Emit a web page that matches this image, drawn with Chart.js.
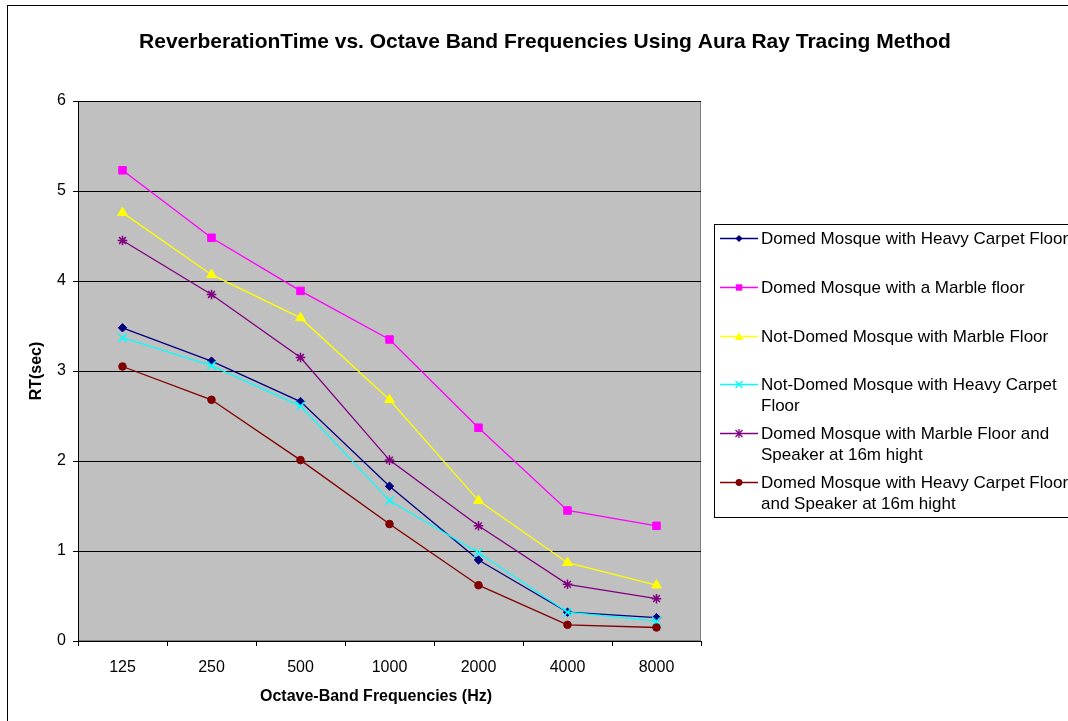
<!DOCTYPE html>
<html>
<head>
<meta charset="utf-8">
<script src="https://cdn.jsdelivr.net/npm/chart.js@4/dist/chart.umd.min.js"></script>
<style>
  html, body { margin: 0; padding: 0; background: #fff; }
  #wrap { position: relative; width: 1068px; height: 721px; }
</style>
</head>
<body>
<div id="wrap"><canvas id="rt" width="1068" height="721"></canvas></div>
<script>
// Octave-band centre frequencies (Hz)
const categories = ['125', '250', '500', '1000', '2000', '4000', '8000'];

// Reverberation time (s) per configuration
const domedCarpet          = [3.48, 3.11, 2.66, 1.72, 0.90, 0.32, 0.26];
const domedMarble          = [5.23, 4.48, 3.89, 3.35, 2.37, 1.45, 1.28];
const notDomedMarble       = [4.76, 4.07, 3.59, 2.68, 1.56, 0.87, 0.62];
const notDomedCarpet       = [3.37, 3.06, 2.61, 1.56, 0.98, 0.32, 0.22];
const domedMarbleSpeaker   = [4.45, 3.85, 3.15, 2.01, 1.28, 0.63, 0.47];
const domedCarpetSpeaker   = [3.05, 2.68, 2.01, 1.30, 0.62, 0.18, 0.15];

const seriesNames = [
  ['Domed Mosque with Heavy Carpet Floor'],
  ['Domed Mosque with a Marble floor'],
  ['Not-Domed Mosque with Marble Floor'],
  ['Not-Domed Mosque with Heavy Carpet', 'Floor'],
  ['Domed Mosque with Marble Floor and', 'Speaker at 16m hight'],
  ['Domed Mosque with Heavy Carpet Floor', 'and Speaker at 16m hight']
];

const chartTitle = 'ReverberationTime vs. Octave Band Frequencies Using Aura Ray Tracing Method';
const xTitle = 'Octave-Band Frequencies (Hz)';
const yTitle = 'RT(sec)';

const FONT = "'Liberation Sans', Arial, sans-serif";

const styles = [
  { color: '#000080', pointStyle: 'rectRot',  radius: 4.2, fill: true },
  { color: '#FF00FF', pointStyle: 'rect',     radius: 5.3, fill: true },
  { color: '#FFFF00', pointStyle: 'triangle', radius: 5.6, fill: true },
  { color: '#00FFFF', pointStyle: 'crossRot', radius: 6.0, fill: false },
  { color: '#800080', pointStyle: 'star',     radius: 4.8, fill: false },
  { color: '#800000', pointStyle: 'circle',   radius: 3.8, fill: true }
];

const values = [domedCarpet, domedMarble, notDomedMarble, notDomedCarpet, domedMarbleSpeaker, domedCarpetSpeaker];

const datasets = values.map((v, i) => ({
  label: seriesNames[i].join(' '),
  data: v,
  borderColor: styles[i].color,
  backgroundColor: styles[i].color,
  pointBackgroundColor: styles[i].color,
  pointBorderColor: styles[i].color,
  pointStyle: styles[i].pointStyle,
  pointRadius: styles[i].radius,
  pointBorderWidth: styles[i].fill ? 1 : 1.5,
  borderWidth: 1.3,
  tension: 0,
  fill: false,
  order: values.length - i
}));

// Legend marker drawing (small glyphs beside each legend entry)
function legendMarker(ctx, style, x, y) {
  ctx.save();
  ctx.fillStyle = style.color;
  ctx.strokeStyle = style.color;
  ctx.lineWidth = 1.3;
  const r = 3.6;
  ctx.beginPath();
  switch (style.pointStyle) {
    case 'rectRot':
      ctx.moveTo(x, y - r); ctx.lineTo(x + r, y); ctx.lineTo(x, y + r); ctx.lineTo(x - r, y);
      ctx.closePath(); ctx.fill(); break;
    case 'rect':
      ctx.rect(x - 3.2, y - 3.2, 6.4, 6.4); ctx.fill(); break;
    case 'triangle':
      ctx.moveTo(x, y - 4.3); ctx.lineTo(x + 4.5, y + 3.4); ctx.lineTo(x - 4.5, y + 3.4);
      ctx.closePath(); ctx.fill(); break;
    case 'crossRot':
      ctx.moveTo(x - 3.5, y - 3.5); ctx.lineTo(x + 3.5, y + 3.5);
      ctx.moveTo(x + 3.5, y - 3.5); ctx.lineTo(x - 3.5, y + 3.5); ctx.stroke(); break;
    case 'star':
      ctx.moveTo(x - 3.5, y - 3.5); ctx.lineTo(x + 3.5, y + 3.5);
      ctx.moveTo(x + 3.5, y - 3.5); ctx.lineTo(x - 3.5, y + 3.5);
      ctx.moveTo(x, y - 4.5); ctx.lineTo(x, y + 4.5); ctx.stroke(); break;
    case 'circle':
      ctx.arc(x, y, 3.4, 0, Math.PI * 2); ctx.fill(); break;
  }
  ctx.restore();
}

const frame = {
  id: 'frame',
  beforeDraw(chart) {
    const { ctx, chartArea: a } = chart;
    ctx.save();
    ctx.fillStyle = '#ffffff';
    ctx.fillRect(0, 0, chart.width, chart.height);
    ctx.fillStyle = '#C0C0C0';
    ctx.fillRect(a.left, a.top, a.right - a.left, a.bottom - a.top);
    // plot-area outline
    ctx.strokeStyle = '#808080';
    ctx.lineWidth = 1;
    ctx.strokeRect(Math.round(a.left) + 0.5, Math.round(a.top) + 0.5,
                   Math.round(a.right - a.left) - 1, Math.round(a.bottom - a.top) - 1);
    ctx.restore();
  },
  afterDraw(chart) {
    const { ctx, chartArea: a } = chart;
    ctx.save();
    // outer chart frame
    ctx.strokeStyle = '#000';
    ctx.lineWidth = 1;
    ctx.strokeRect(7.5, 5.5, 1100, 800);

    // title
    ctx.fillStyle = '#000';
    ctx.font = 'bold 21px ' + FONT;
    ctx.textAlign = 'center';
    ctx.textBaseline = 'middle';
    ctx.fillText(chartTitle, 545, 42);

    // axis titles
    ctx.font = 'bold 16px ' + FONT;
    ctx.fillText(xTitle, 376, 697);
    ctx.save();
    ctx.translate(37, (a.top + a.bottom) / 2);
    ctx.rotate(-Math.PI / 2);
    ctx.fillText(yTitle, 0, 0);
    ctx.restore();

    // legend box
    ctx.strokeStyle = '#000';
    ctx.strokeRect(714.5, 224.5, 400, 293);
    const rows = [[238], [287], [336], [384, 405], [433, 454], [482, 503]];
    ctx.font = '17px ' + FONT;
    ctx.textAlign = 'left';
    rows.forEach((ys, i) => {
      const s = styles[i];
      ctx.strokeStyle = s.color;
      ctx.lineWidth = 1.5;
      ctx.beginPath();
      ctx.moveTo(720, ys[0] + 0.5);
      ctx.lineTo(758, ys[0] + 0.5);
      ctx.stroke();
      legendMarker(ctx, s, 739, ys[0] + 0.5);
      ctx.fillStyle = '#000';
      seriesNames[i].forEach((t, k) => ctx.fillText(t, 761, ys[k] + 1));
    });
    ctx.restore();
  }
};

new Chart(document.getElementById('rt'), {
  type: 'line',
  data: { labels: categories, datasets },
  options: {
    responsive: false,
    animation: false,
    layout: { padding: { left: 0, top: 101, right: 367, bottom: 0 } },
    plugins: { legend: { display: false }, title: { display: false }, tooltip: { enabled: false } },
    scales: {
      x: {
        type: 'category',
        offset: true,
        grid: { display: true, drawOnChartArea: false, offset: true, tickLength: 5, color: '#000', tickColor: '#000' },
        border: { color: '#000', width: 1 },
        ticks: { color: '#000', font: { family: FONT, size: 16 }, padding: 12, maxRotation: 0, autoSkip: false },
        afterFit(scale) { scale.height = 80; }
      },
      y: {
        min: 0,
        max: 6,
        grid: { color: '#000', tickLength: 5, tickColor: '#000', lineWidth: 1 },
        border: { color: '#000', width: 1 },
        ticks: { stepSize: 1, color: '#000', font: { family: FONT, size: 16 }, padding: 7 },
        afterFit(scale) { scale.width = 78; }
      }
    }
  },
  plugins: [frame]
});
</script>
</body>
</html>
